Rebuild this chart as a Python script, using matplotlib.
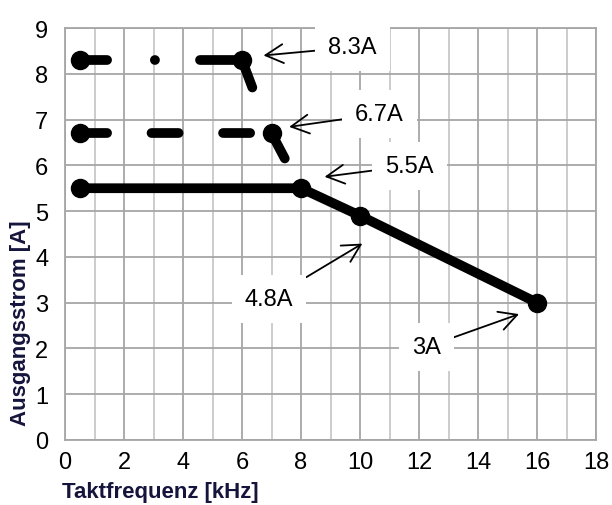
import matplotlib
matplotlib.use("Agg")
import matplotlib.pyplot as plt

plt.rcParams['font.family'] = ['Liberation Sans', 'DejaVu Sans']
plt.rcParams['lines.scale_dashes'] = False

# Kennlinien: Ausgangsstrom über Taktfrequenz
freq_55 = [0.5, 8, 10, 16]
strom_55 = [5.5, 5.5, 4.9, 3.0]

freq_67 = [0.5, 7]
strom_67 = [6.7, 6.7]
abfall_67_x = [7, 7.45]
abfall_67_y = [6.7, 6.15]

freq_83 = [0.5, 6]
strom_83 = [8.3, 8.3]
abfall_83_x = [6, 6.35]
abfall_83_y = [8.3, 7.7]

# Beschriftungen: (text, textposition, pfeilspitze)
beschriftungen = [
    ("8.3A", (9.75, 8.58), (6.73, 8.4)),
    ("6.7A", (10.65, 7.12), (7.6, 6.84)),
    ("5.5A", (11.68, 5.99), (8.8, 5.75)),
    ("4.8A", (6.92, 3.07), (10.08, 4.29)),
    ("3A", (12.25, 2.03), (15.39, 2.75)),
]

fig = plt.figure(figsize=(6.12, 5.06), dpi=100)
ax = fig.add_axes([65/612, 1 - 441/506, 531/612, 412/506])

ax.set_xlim(0, 18)
ax.set_ylim(0, 9)
ax.set_xticks(range(0, 19, 2))
ax.set_xticks(range(1, 18, 2), minor=True)
ax.set_yticks(range(0, 10))
ax.grid(True, which='major', color='#a6a6a6', linewidth=1.3)
ax.grid(True, which='minor', axis='x', color='#c8c8c8', linewidth=1.3)
ax.set_axisbelow(True)
for s in ax.spines.values():
    s.set_color('#a6a6a6')
    s.set_linewidth(1.3)
ax.tick_params(which='both', length=0, labelsize=17)
ax.tick_params(axis='y', pad=12)
ax.tick_params(axis='x', pad=8)

lw = 7
ms = 13
ax.plot(freq_55, strom_55, color='black', lw=lw, marker='o', ms=ms,
        solid_capstyle='round', zorder=3)

ax.plot(freq_67, strom_67, color='black', lw=lw, linestyle=(0, (19.5, 32)),
        dash_capstyle='round', zorder=3)
ax.plot(freq_67, strom_67, 'o', color='black', ms=ms, zorder=4)
ax.plot(abfall_67_x, abfall_67_y, color='black', lw=lw,
        solid_capstyle='round', zorder=3)

ax.plot(freq_83, strom_83, color='black', lw=lw,
        linestyle=(0, (19.5, 34.4, 0.1, 32.4, 60, 10)),
        dash_capstyle='round', zorder=3)
ax.plot(freq_83, strom_83, 'o', color='black', ms=ms, zorder=4)
ax.plot(abfall_83_x, abfall_83_y, color='black', lw=lw,
        solid_capstyle='round', zorder=3)

for text, pos, spitze in beschriftungen:
    ax.annotate(text, xy=spitze, xytext=pos, fontsize=17, ha='center', va='center',
                bbox=dict(boxstyle='square,pad=0.55', fc='white', ec='none'),
                arrowprops=dict(arrowstyle='->,head_length=0.75,head_width=0.4',
                                color='black', lw=1.3, shrinkA=0, shrinkB=0),
                zorder=5)

ax.set_xlabel("Taktfrequenz [kHz]", fontsize=16, fontweight='bold', color='#14143c',
              ha='left')
ax.xaxis.set_label_coords(-0.005, -0.1)
ax.set_ylabel("Ausgangsstrom [A]", fontsize=16, fontweight='bold', color='#14143c')
ax.yaxis.set_label_coords(-0.064, 0.285)

fig.savefig("out.png", dpi=100)
